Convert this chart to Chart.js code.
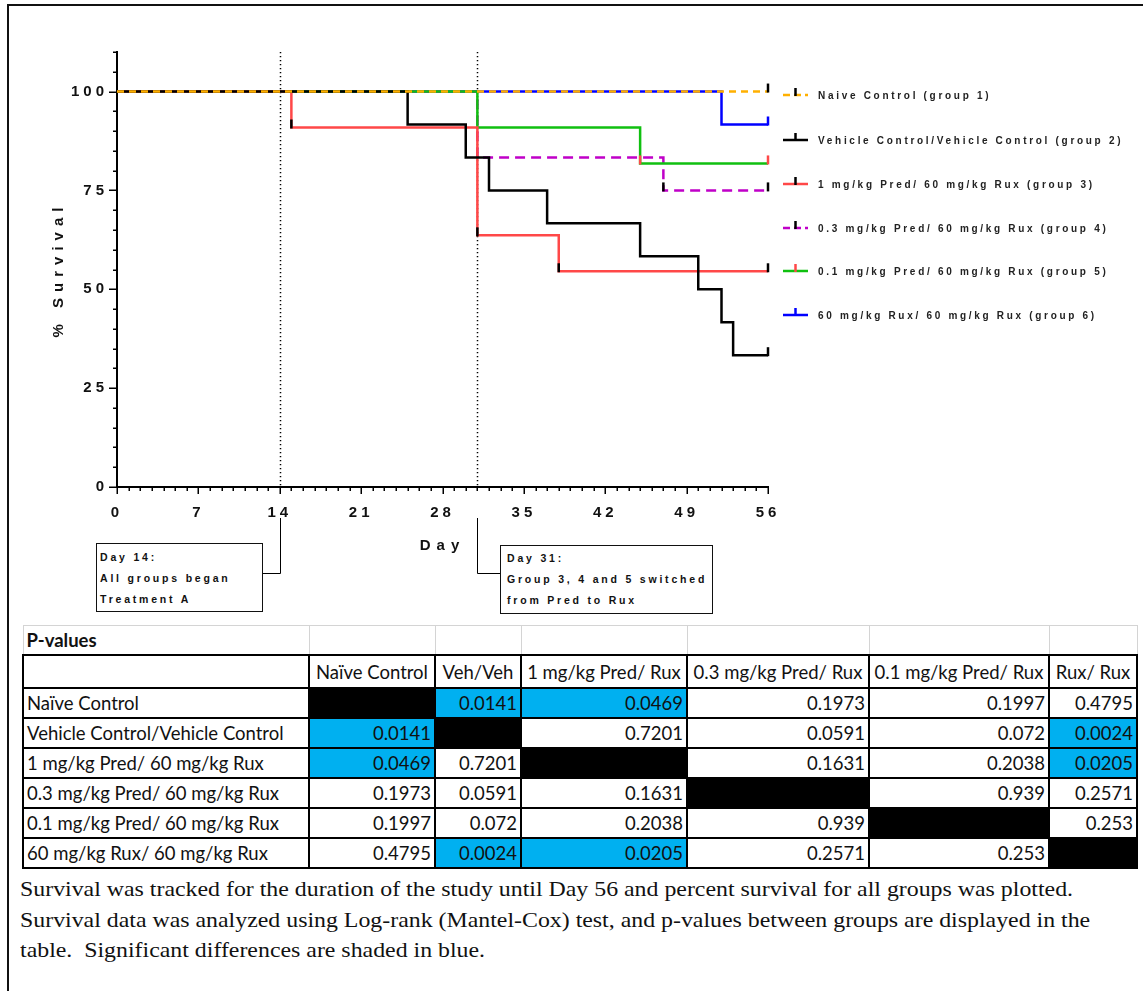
<!DOCTYPE html>
<html>
<head>
<meta charset="utf-8">
<script src="https://cdn.jsdelivr.net/npm/chart.js@4.4.1/dist/chart.umd.min.js"></script>
<style>
  html, body { margin: 0; padding: 0; background: #fff; }
  body { position: relative; width: 1143px; height: 991px; overflow: hidden; }
  .frame { position: absolute; left: 7px; top: 4px; right: -4px; bottom: -4px;
           border-top: 2px solid #111; border-left: 2px solid #111; }
  #chart { position: absolute; left: 0; top: 0; }
  .note { position: absolute; box-sizing: border-box; border: 1px solid #111; background: #fff;
          font-family: "Liberation Sans", Arial, sans-serif; font-weight: bold; font-size: 10.5px;
          letter-spacing: 2.8px; line-height: 21px; color: #111; white-space: nowrap; }
  table.pv { position: absolute; left: 22px; top: 625px; width: 1114px; border-collapse: collapse;
             table-layout: fixed; font-family: Lato, "Open Sans", sans-serif; font-size: 18.5px; color: #111; }
  table.pv td { padding: 0 3px; height: 28px; border: 2px solid #000; white-space: nowrap; overflow: hidden; }
  table.pv tr.title td { border: 1px solid #d4d4d4; border-bottom: 2px solid #000; height: 28px; }
  table.pv tr.head td { height: 31px; text-align: center; padding: 0 1px; }
  table.pv td.num { text-align: right; }
  table.pv td.sig { background: #00b0f0; }
  table.pv td.self { background: #000; }
  .caption { position: absolute; left: 20px; top: 874px; font-family: "Liberation Serif", "Times New Roman", serif;
             font-size: 22px; line-height: 30.5px; color: #111; white-space: nowrap;
             transform: scaleX(1.084); transform-origin: 0 0; }
</style>
</head>
<body>
<div class="frame"></div>
<canvas id="chart" width="1143" height="625"></canvas>

<div class="note" style="left:96px; top:543px; width:167px; height:69px; padding:3px 0 0 3px;">
  Day 14:<br>All groups began<br>Treatment A
</div>
<div class="note" style="left:500px; top:545px; width:213px; height:69px; padding:2px 0 0 6px;">
  Day 31:<br>Group 3, 4 and 5 switched<br>from Pred to Rux
</div>

<table class="pv" id="pv"></table>

<div class="caption">
Survival was tracked for the duration of the study until Day 56 and percent survival for all groups was plotted.<br>
Survival data was analyzed using Log-rank (Mantel-Cox) test, and p-values between groups are displayed in the<br>
table.&nbsp; Significant differences are shaded in blue.
</div>

<script>
// ---- Kaplan-Meier steps: day of each change and % surviving from that day on ----
const naiveDays  = [0, 56];
const naiveSurv  = [100, 100];
const vehDays    = [0, 25, 30, 32, 37, 45, 50, 52, 53, 56];
const vehSurv    = [100, 91.67, 83.33, 75, 66.67, 58.33, 50, 41.67, 33.33, 33.33];
const pred1Days  = [0, 15, 31, 38, 56];
const pred1Surv  = [100, 90.91, 63.64, 54.55, 54.55];
const pred03Days = [0, 31, 47, 56];
const pred03Surv = [100, 83.33, 75, 75];
const pred01Days = [0, 31, 45, 56];
const pred01Surv = [100, 90.91, 81.82, 81.82];
const ruxDays    = [0, 52, 56];
const ruxSurv    = [100, 91.67, 91.67];

// censored observations (day)
const naiveCens  = [56];
const vehCens    = [56];
const pred1Cens  = [15, 31, 38, 56];
const pred03Cens = [47, 56];
const pred01Cens = [45, 56];
const ruxCens    = [56];

const groupNames = [
  'Naive Control (group 1)',
  'Vehicle Control/Vehicle Control (group 2)',
  '1 mg/kg Pred/ 60 mg/kg Rux (group 3)',
  '0.3 mg/kg Pred/ 60 mg/kg Rux (group 4)',
  '0.1 mg/kg Pred/ 60 mg/kg Rux (group 5)',
  '60 mg/kg Rux/ 60 mg/kg Rux (group 6)'
];

// axis labels and event days
const dayTicks    = [0, 7, 14, 21, 28, 35, 42, 49, 56];
const survTicks   = [0, 25, 50, 75, 100];
const markerDays  = [14, 31];

// ---- p-value table ----
const tableCols = ['Naïve Control', 'Veh/Veh', '1 mg/kg Pred/ Rux', '0.3 mg/kg Pred/ Rux', '0.1 mg/kg Pred/ Rux', 'Rux/ Rux'];
const tableRows = ['Naïve Control', 'Vehicle Control/Vehicle Control', '1 mg/kg Pred/ 60 mg/kg Rux',
                   '0.3 mg/kg Pred/ 60 mg/kg Rux', '0.1 mg/kg Pred/ 60 mg/kg Rux', '60 mg/kg Rux/ 60 mg/kg Rux'];
const pValues = [
  [null,   0.0141, 0.0469, 0.1973, 0.1997, 0.4795],
  [0.0141, null,   0.7201, 0.0591, 0.072,  0.0024],
  [0.0469, 0.7201, null,   0.1631, 0.2038, 0.0205],
  [0.1973, 0.0591, 0.1631, null,   0.939,  0.2571],
  [0.1997, 0.072,  0.2038, 0.939,  null,   0.253 ],
  [0.4795, 0.0024, 0.0205, 0.2571, 0.253,  null  ]
];
const alpha = 0.05;

(function buildTable() {
  const t = document.getElementById('pv');
  const widths = [286, 126, 86, 166, 182, 180, 88];
  const cg = document.createElement('colgroup');
  widths.forEach(w => { const c = document.createElement('col'); c.style.width = w + 'px'; cg.appendChild(c); });
  t.appendChild(cg);
  let html = '<tr class="title"><td><b>P-values</b></td>' + '<td></td>'.repeat(tableCols.length) + '</tr>';
  html += '<tr class="head"><td></td>' + tableCols.map(c => '<td>' + c + '</td>').join('') + '</tr>';
  tableRows.forEach((r, i) => {
    html += '<tr><td>' + r + '</td>';
    pValues[i].forEach(v => {
      if (v === null) html += '<td class="self"></td>';
      else html += '<td class="num' + (v < alpha ? ' sig' : '') + '">' + v + '</td>';
    });
    html += '</tr>';
  });
  t.insertAdjacentHTML('beforeend', html);
})();

// ---- chart ----
const FONT = '"Liberation Sans", Arial, sans-serif';

function series(label, xs, ys, color, dash, cens, censColor, order) {
  return {
    label, order,
    data: xs.map((d, i) => ({ x: d, y: ys[i] })),
    borderColor: color, backgroundColor: color,
    borderWidth: 2.5, borderDash: dash, borderCapStyle: 'butt',
    stepped: 'before', pointRadius: 0, fill: false,
    censored: cens, censorColor: censColor
  };
}

const datasets = [
  series(groupNames[0], naiveDays,  naiveSurv,  '#ffb000', [7, 5],  naiveCens,  '#000', 0),
  series(groupNames[1], vehDays,    vehSurv,    '#000000', [],      vehCens,    '#000', 1),
  series(groupNames[2], pred1Days,  pred1Surv,  '#ff4848', [],      pred1Cens,  '#000', 2),
  series(groupNames[3], pred03Days, pred03Surv, '#c000c8', [10, 6], pred03Cens, '#000', 4),
  series(groupNames[4], pred01Days, pred01Surv, '#10c010', [],      pred01Cens, '#ff4848', 3),
  series(groupNames[5], ruxDays,    ruxSurv,    '#0000ff', [],      ruxCens,    '#0000ff', 5)
];

function survAt(ds, day) {
  let v = ds.data[0].y;
  ds.data.forEach(p => { if (p.x <= day) v = p.y; });
  return v;
}

// letter-spaced axis text, like the plotting software's export
const spacedText = {
  id: 'spacedText',
  beforeDraw(chart) { chart.ctx.letterSpacing = '4px'; },
  afterDraw(chart) { chart.ctx.letterSpacing = '0px'; },
  afterUpdate(chart) {
    Object.values(chart.scales).forEach(s => {
      if (s.$spacedTitle) return;
      const orig = s.drawTitle;
      s.drawTitle = function () {
        const c = this.ctx, prev = c.letterSpacing;
        c.letterSpacing = '6px';
        orig.apply(this, arguments);
        c.letterSpacing = prev;
      };
      s.$spacedTitle = true;
    });
  }
};

// tick marks, study-event markers, censor ticks and the legend
const kmDecor = {
  id: 'kmDecor',
  beforeDatasetsDraw(chart) {
    const { ctx, chartArea, scales: { x } } = chart;
    ctx.save();
    ctx.strokeStyle = '#000';
    ctx.lineWidth = 1.5;
    ctx.setLineDash([1.2, 2.8]);
    markerDays.forEach(d => {
      const px = Math.round(x.getPixelForValue(d)) + 0.5;
      ctx.beginPath(); ctx.moveTo(px, chartArea.top); ctx.lineTo(px, chartArea.bottom); ctx.stroke();
    });
    ctx.restore();
  },
  afterDatasetsDraw(chart) {
    const { ctx, scales: { x, y } } = chart;
    ctx.save();
    ctx.lineWidth = 2.5;
    chart.data.datasets.forEach(ds => {
      ctx.strokeStyle = ds.censorColor;
      ds.censored.forEach(d => {
        const px = x.getPixelForValue(d), py = y.getPixelForValue(survAt(ds, d));
        ctx.beginPath(); ctx.moveTo(px, py + 1); ctx.lineTo(px, py - 8); ctx.stroke();
      });
    });
    ctx.restore();
  },
  afterDraw(chart, args, opts) {
    const { ctx, chartArea, scales: { x, y } } = chart;
    ctx.save();
    ctx.strokeStyle = '#000';
    ctx.lineWidth = 1.5;
    // x ticks: one per day, longer at each week
    x.ticks.forEach(t => {
      const px = Math.round(x.getPixelForValue(t.value)) + 0.25;
      const len = dayTicks.includes(t.value) ? 7 : 4;
      ctx.beginPath(); ctx.moveTo(px, chartArea.bottom); ctx.lineTo(px, chartArea.bottom + len); ctx.stroke();
    });
    // y ticks: every 5 %, longer at labelled values
    y.ticks.forEach(t => {
      const py = Math.round(y.getPixelForValue(t.value)) + 0.25;
      const len = survTicks.includes(t.value) ? 8 : 4;
      ctx.beginPath(); ctx.moveTo(chartArea.left, py); ctx.lineTo(chartArea.left - len, py); ctx.stroke();
    });
    // connectors from the event days down to their notes
    ctx.lineWidth = 1;
    markerDays.forEach((d, i) => {
      const px = Math.round(x.getPixelForValue(d)) + 0.5;
      ctx.beginPath();
      ctx.moveTo(px, opts.connectTop);
      ctx.lineTo(px, opts.connectY + 0.5);
      ctx.lineTo(opts.noteEdges[i], opts.connectY + 0.5);
      ctx.stroke();
    });
    // legend
    ctx.font = 'bold 10px ' + FONT;
    ctx.letterSpacing = '2.7px';
    ctx.textBaseline = 'middle';
    ctx.textAlign = 'left';
    chart.data.datasets.forEach((ds, i) => {
      const ly = opts.legendRows[i];
      ctx.lineWidth = 2.5;
      ctx.strokeStyle = ds.borderColor;
      ctx.setLineDash(ds.borderDash.length ? [7, 4] : []);
      ctx.beginPath(); ctx.moveTo(opts.legendX, ly); ctx.lineTo(opts.legendX + 25, ly); ctx.stroke();
      ctx.setLineDash([]);
      ctx.strokeStyle = ds.censorColor;
      ctx.beginPath(); ctx.moveTo(opts.legendX + 12.5, ly + 1); ctx.lineTo(opts.legendX + 12.5, ly - 7); ctx.stroke();
      ctx.fillStyle = '#222';
      ctx.fillText(ds.label, opts.legendX + 35, ly + 1);
    });
    ctx.restore();
  }
};

new Chart(document.getElementById('chart'), {
  type: 'line',
  data: { datasets },
  plugins: [spacedText, kmDecor],
  options: {
    responsive: false,
    animation: false,
    events: [],
    layout: { padding: { left: 40, right: 375, top: 52, bottom: 69 } },
    plugins: {
      legend: { display: false },
      tooltip: { enabled: false },
      kmDecor: {
        legendX: 783,
        legendRows: [95, 140, 184, 228, 271, 315],
        connectTop: 518, connectY: 573,
        noteEdges: [262, 500]
      }
    },
    scales: {
      x: {
        type: 'linear', min: 0, max: 56,
        afterFit: s => { s.height = 69; },
        grid: { display: false, drawTicks: false },
        border: { display: true, color: '#000', width: 2 },
        ticks: {
          stepSize: 1, autoSkip: false, maxRotation: 0, padding: 17,
          color: '#111', font: { family: FONT, size: 15, weight: 'bold' },
          callback: v => dayTicks.includes(v) ? String(v) : ''
        },
        title: { display: true, text: 'Day', color: '#111', padding: { top: 0, bottom: 1 },
                 font: { family: FONT, size: 15, weight: 'bold' } }
      },
      y: {
        type: 'linear', min: 0, max: 110,
        afterFit: s => { s.width = 77; },
        grid: { display: false, drawTicks: false },
        border: { display: true, color: '#000', width: 2 },
        ticks: {
          stepSize: 5, autoSkip: false, padding: 9,
          color: '#111', font: { family: FONT, size: 15, weight: 'bold' },
          callback: v => survTicks.includes(v) ? String(v) : ''
        },
        title: { display: true, text: '% Survival', color: '#111', padding: { top: 10, bottom: 0 },
                 font: { family: FONT, size: 15, weight: 'bold' } }
      }
    }
  }
});
</script>
</body>
</html>
